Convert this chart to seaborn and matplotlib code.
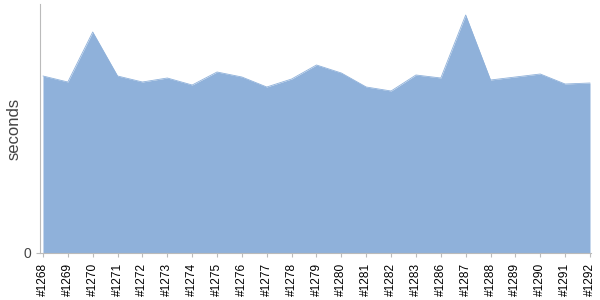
import numpy as np
import matplotlib
matplotlib.use('Agg')
import matplotlib.pyplot as plt
import seaborn as sns

# build numbers and build durations (seconds)
builds = ['#1268', '#1269', '#1270', '#1271', '#1272', '#1273', '#1274', '#1275',
          '#1276', '#1277', '#1278', '#1279', '#1280', '#1281', '#1282', '#1283',
          '#1286', '#1287', '#1288', '#1289', '#1290', '#1291', '#1292']
durations = [177, 171, 221, 177, 171, 175, 168, 181, 176, 166, 174, 188,
             180, 166, 162, 178, 175, 238, 173, 176, 179, 169, 170]

sns.set_style("white")
plt.rcParams['font.family'] = ['Liberation Sans', 'DejaVu Sans']

fig = plt.figure(figsize=(6, 3), dpi=100)
ax = fig.add_axes([40/600, 1 - 253/300, 551/600, 249/300])

x = np.arange(len(builds))
fill_color = '#8fb1da'
ax.fill_between(x, 0, durations, color=fill_color, linewidth=0)
sns.lineplot(x=x, y=durations, ax=ax, color=fill_color, lw=0.6)

ax.set_xlim(-0.12, len(builds) - 1 + 0.04)
ax.set_ylim(0, 249)
ax.set_xticks(x)
ax.set_xticklabels(builds, rotation=90, fontsize=8.6, color='black')
ax.set_yticks([0])
ax.set_yticklabels(['0'], fontsize=10, color='#444444')
ax.set_ylabel('seconds', fontsize=12, color='#444444', labelpad=2)

for s in ['top', 'right']:
    ax.spines[s].set_visible(False)
ax.spines['left'].set_color('#bbbbbb')
ax.spines['bottom'].set_color('#bbbbbb')
ax.tick_params(axis='both', which='both', length=3, width=0.8, color='#bbbbbb',
               direction='out', bottom=True, left=True)
ax.tick_params(axis='x', pad=4)
ax.tick_params(axis='y', pad=3)

plt.savefig('out.png', dpi=100)
